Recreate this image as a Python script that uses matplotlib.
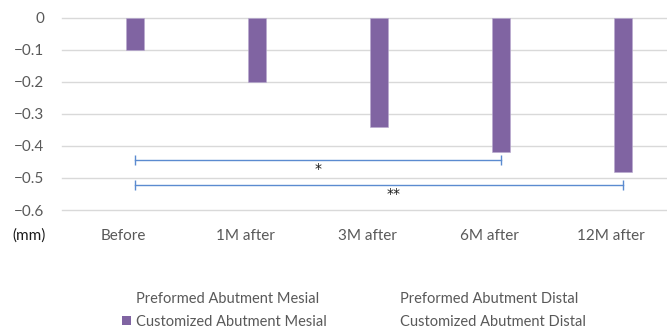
import matplotlib
matplotlib.use("Agg")
import matplotlib.pyplot as plt
from matplotlib.patches import Patch
import numpy as np

plt.rcParams["font.family"] = ["Lato", "DejaVu Sans"]

# Abutment measurements (mm) per follow-up time point
categories = ["Before", "1M after", "3M after", "6M after", "12M after"]
series_names = [
    "Preformed Abutment Mesial",
    "Customized Abutment Mesial",
    "Preformed Abutment Distal",
    "Customized Abutment Distal",
]
customized_mesial = [-0.10, -0.20, -0.34, -0.42, -0.48]
yticks = [0, -0.1, -0.2, -0.3, -0.4, -0.5, -0.6]

# Significance brackets: (start index, end index, y level, label, label x)
brackets = [
    (0, 3, -0.445, "*", 1.60),
    (0, 4, -0.523, "**", 2.22),
]

PURPLE = "#8064a2"
BLUE = "#5b8bd0"
GRID = "#d9d9d9"
INK = "#595959"
FS = 11

fig = plt.figure(figsize=(6.67, 3.29), dpi=100)
ax = fig.add_axes([0.093, 0.3617, 0.9145, 0.5836])

x = np.arange(len(categories))
slot = 0.19
bar_w = 0.148
offset = 0.5 * slot  # third slot of a four-series cluster

ax.bar(x + offset, customized_mesial, width=bar_w, color=PURPLE,
       edgecolor="#b8a9cf", linewidth=0.4, zorder=3, align="center")

for start, end, level, label, lx in brackets:
    ax.plot([start + offset, end + offset], [level, level], color=BLUE,
            linewidth=1.0, marker="|", markersize=7, markeredgewidth=1.0, zorder=4)
    ax.text(lx, level - 0.006, label, ha="center", va="top", fontsize=10,
            family="DejaVu Sans", color="#1a1a1a", zorder=5)

ax.set_xlim(-0.5, len(categories) - 0.5)
ax.set_ylim(-0.6, 0)
ax.set_yticks(yticks)
ax.set_yticklabels(["0" if v == 0 else f"\u2212{abs(v):.1f}" for v in yticks])
ax.set_xticks(x)
ax.set_xticklabels(categories)
ax.tick_params(axis="both", length=0, labelsize=FS, labelcolor=INK)
ax.tick_params(axis="y", pad=13)
ax.tick_params(axis="x", pad=14)
ax.yaxis.grid(True, color=GRID, linewidth=1.0, zorder=0)
for gl in ax.get_ygridlines():
    gl.set_clip_on(False)
ax.set_axisbelow(True)
for spine in ax.spines.values():
    spine.set_visible(False)

fig.text(0.044, 0.283, "(mm)", ha="center", va="center", fontsize=FS, color="#1a1a1a")

invisible = Patch(facecolor="none", edgecolor="none")
handles = [invisible, Patch(facecolor=PURPLE, edgecolor="none"), invisible, invisible]
fig.legend(handles, series_names, ncol=2, loc="upper left",
           bbox_to_anchor=(0.183, 0.113), frameon=False, fontsize=10.5,
           labelcolor=INK, handlelength=0.62, handleheight=0.62, handletextpad=0.36,
           columnspacing=4.05, labelspacing=0.62, borderaxespad=0, borderpad=0)

fig.savefig("out.png", dpi=100, facecolor="white")
